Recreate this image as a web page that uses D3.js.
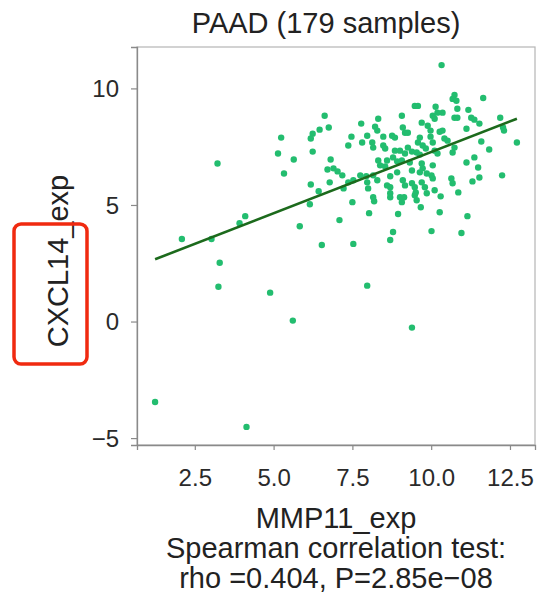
<!DOCTYPE html>
<html>
<head>
<meta charset="utf-8">
<script src="https://cdn.jsdelivr.net/npm/d3@7"></script>
<style>
  html, body { margin: 0; padding: 0; background: #fff; }
  svg { display: block; font-family: "Liberation Sans", Arial, sans-serif; }
</style>
</head>
<body>
<div id="chart"></div>
<script>
// MMP11 expression (x) and CXCL14 expression (y), one entry per sample
const mmp11 = [
  1.24, 4.14, 5.61, 9.39, 3.22, 2.09, 3.03, 3.29, 3.25, 4.89,
  7.97, 3.92, 4.10, 5.83, 6.53, 7.53, 7.09, 8.03, 8.70, 8.79,
  8.95, 10.01, 10.96, 11.15, 10.27, 7.50, 8.19, 6.15, 8.70, 9.07,
  9.54, 9.67, 10.30, 10.86, 10.33, 11.65, 12.72, 11.84, 11.59, 12.25,
  12.19, 12.28, 12.31, 5.24, 5.14, 5.64, 5.33, 6.62, 6.75, 6.46,
  6.24, 6.18, 6.24, 6.81, 6.71, 6.90, 7.03, 6.18, 6.78, 6.43,
  7.18, 7.37, 7.22, 7.53, 7.78, 8.32, 8.22, 8.29, 7.47, 7.37,
  7.97, 7.81, 8.13, 8.16, 8.48, 8.76, 8.85, 8.48, 8.54, 8.85,
  8.32, 8.38, 8.60, 8.79, 8.92, 8.54, 9.07, 7.75, 7.94, 8.16,
  8.29, 7.97, 8.00, 8.60, 8.70, 8.92, 8.70, 8.16, 8.70, 9.48,
  9.58, 10.14, 9.07, 10.05, 10.11, 9.70, 9.89, 9.98, 9.10, 9.17,
  9.26, 9.64, 9.58, 9.98, 10.05, 9.73, 9.83, 9.26, 9.39, 9.54,
  9.64, 9.17, 10.11, 10.20, 9.01, 9.32, 9.70, 9.73, 10.05, 9.39,
  9.86, 10.01, 9.64, 9.10, 9.17, 9.39, 9.48, 9.70, 9.80, 9.01,
  9.14, 9.48, 9.86, 10.11, 10.74, 10.68, 10.80, 10.83, 10.20, 10.36,
  10.74, 10.83, 11.18, 11.27, 11.37, 11.53, 11.12, 10.27, 10.36, 10.42,
  10.52, 10.74, 10.68, 11.37, 11.12, 11.49, 11.53, 11.31, 10.64, 10.68,
  10.05, 9.51
];
const cxcl14 = [
  -3.45, -4.52, 0.04, -0.26, 6.78, 3.54, 3.54, 2.52, 1.49, 1.24,
  1.54, 4.22, 4.52, 4.09, 3.28, 3.33, 4.35, 4.65, 3.50, 3.84,
  4.61, 3.88, 3.80, 4.52, 4.69, 5.12, 5.16, 5.03, 5.33, 5.12,
  5.20, 4.90, 5.37, 5.54, 11.00, 9.59, 7.68, 7.38, 7.72, 6.27,
  8.74, 8.32, 8.19, 7.89, 7.21, 6.95, 6.35, 8.83, 8.32, 8.23,
  8.06, 7.85, 7.29, 6.95, 6.52, 6.57, 6.44, 5.88, 5.97, 5.59,
  6.27, 5.97, 5.71, 6.06, 8.49, 8.70, 8.36, 8.19, 7.93, 7.55,
  7.97, 7.68, 7.68, 7.46, 7.93, 7.97, 7.89, 7.55, 7.42, 7.33,
  6.91, 6.70, 6.91, 7.04, 6.87, 6.65, 6.91, 6.27, 6.23, 6.27,
  6.06, 5.97, 5.71, 5.84, 6.23, 6.40, 5.50, 5.33, 5.76, 9.25,
  9.25, 9.21, 8.83, 8.83, 8.70, 8.53, 8.40, 8.19, 8.32, 8.10,
  8.10, 7.89, 7.68, 7.93, 7.68, 7.55, 7.42, 7.46, 7.29, 7.25,
  7.16, 7.21, 7.33, 7.21, 7.33, 6.82, 6.78, 6.57, 6.70, 6.48,
  6.35, 6.27, 6.40, 6.06, 5.84, 5.93, 5.76, 5.97, 5.76, 5.33,
  5.33, 5.42, 5.50, 5.63, 9.72, 9.55, 9.47, 9.13, 8.96, 8.96,
  8.74, 8.74, 9.08, 8.74, 8.66, 8.49, 8.27, 8.14, 8.19, 7.85,
  7.76, 7.46, 7.25, 7.04, 6.82, 6.61, 6.18, 6.01, 6.14, 5.93,
  6.14, 5.54
];
const xTicks = [2.5, 5.0, 7.5, 10.0, 12.5];
const yTicks = [-5, 0, 5, 10];
// linear fit
const fitIntercept = 2.02;
const fitSlope = 0.525;

const titleText = "PAAD (179 samples)";
const xTitle = "MMP11_exp";
const yTitle = "CXCL14_exp";
const statLines = ["Spearman correlation test:", "rho =0.404, P=2.85e\u221208"];

const width = 550, height = 597;
const margin = { top: 47, right: 15, bottom: 152, left: 137 };
const plotW = width - margin.left - margin.right;
const plotH = height - margin.top - margin.bottom;

const points = mmp11.map((x, i) => ({ x, y: cxcl14[i] }));

// ggplot-style 5% expansion of the data range
function expand(ext) {
  const pad = (ext[1] - ext[0]) * 0.05;
  return [ext[0] - pad, ext[1] + pad];
}
const xExt = d3.extent(mmp11);
const yExt = d3.extent(cxcl14);

const x = d3.scaleLinear().domain(expand(xExt)).range([0, plotW]);
const y = d3.scaleLinear().domain(expand(yExt)).range([plotH, 0]);

const svg = d3.select("#chart").append("svg")
  .attr("width", width)
  .attr("height", height)
  .attr("viewBox", `0 0 ${width} ${height}`);

const g = svg.append("g").attr("transform", `translate(${margin.left},${margin.top})`);

// panel frame
g.append("rect")
  .attr("width", plotW)
  .attr("height", plotH)
  .attr("fill", "none")
  .attr("stroke", "#b5b5b5")
  .attr("stroke-width", 1.2);

// axes
const xAxis = g.append("g")
  .attr("transform", `translate(0,${plotH})`)
  .call(d3.axisBottom(x).tickValues(xTicks).tickFormat(d3.format(".1f")).tickSize(5).tickPadding(19));
const yAxis = g.append("g")
  .call(d3.axisLeft(y).tickValues(yTicks).tickFormat(d3.format("d")).tickSize(6).tickPadding(12));

[xAxis, yAxis].forEach(a => {
  a.select(".domain").attr("stroke", "#8a8a8a").attr("stroke-width", 1.3);
  a.selectAll(".tick line").attr("stroke", "#8a8a8a").attr("stroke-width", 1.2);
  a.selectAll(".tick text")
    .attr("fill", "#2a2a2a")
    .style("font-size", "24px")
    .style("font-family", "'Liberation Sans', Arial, sans-serif");
});
yAxis.selectAll(".tick text").attr("dy", "0.35em");

// points
g.append("g")
  .selectAll("circle")
  .data(points)
  .join("circle")
  .attr("cx", d => x(d.x))
  .attr("cy", d => y(d.y))
  .attr("r", 3.2)
  .attr("fill", "#23bd6f");

// regression line over the data range
g.append("line")
  .attr("x1", x(xExt[0]))
  .attr("y1", y(fitIntercept + fitSlope * xExt[0]))
  .attr("x2", x(xExt[1]))
  .attr("y2", y(fitIntercept + fitSlope * xExt[1]))
  .attr("stroke", "#1c6a1c")
  .attr("stroke-width", 2.6);

// title
svg.append("text")
  .attr("x", 326)
  .attr("y", 33)
  .attr("text-anchor", "middle")
  .attr("fill", "#222")
  .style("font-size", "29px")
  .text(titleText);

// x title and statistics
svg.append("text")
  .attr("x", margin.left + plotW / 2)
  .attr("y", 528)
  .attr("text-anchor", "middle")
  .attr("fill", "#222")
  .style("font-size", "29px")
  .text(xTitle);

svg.append("g")
  .selectAll("text")
  .data(statLines)
  .join("text")
  .attr("x", margin.left + plotW / 2)
  .attr("y", (d, i) => 558 + i * 30)
  .attr("text-anchor", "middle")
  .attr("fill", "#222")
  .style("font-size", "29px")
  .text(d => d);

// y title
svg.append("text")
  .attr("transform", `translate(68,261) rotate(-90)`)
  .attr("text-anchor", "middle")
  .attr("fill", "#222")
  .style("font-size", "29px")
  .text(yTitle);

// red highlight box around the gene name
svg.append("rect")
  .attr("x", 14)
  .attr("y", 224)
  .attr("width", 73)
  .attr("height", 140)
  .attr("rx", 7)
  .attr("fill", "none")
  .attr("stroke", "#f02a10")
  .attr("stroke-width", 3.5);
</script>
</body>
</html>
